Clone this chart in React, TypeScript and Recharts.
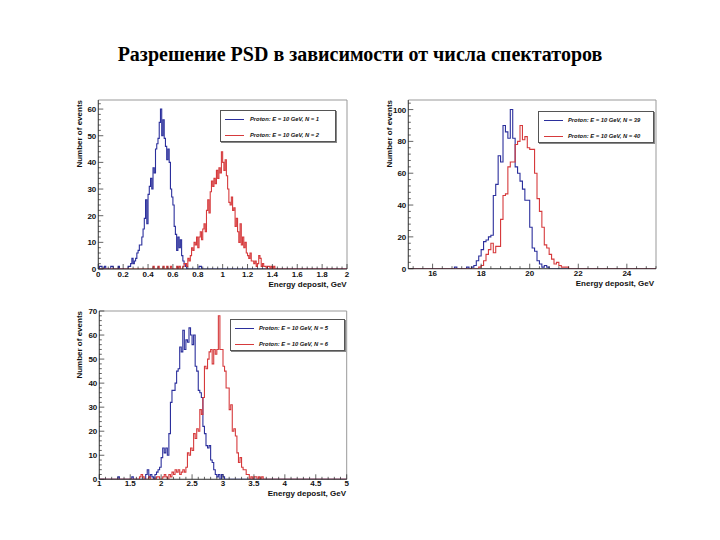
import { LineChart, Line, XAxis, YAxis, Legend, ReferenceArea } from "recharts";

const BLUE = "#2b2f9c";
const RED = "#d63a3c";
const SANS = '"Liberation Sans", Arial, sans-serif';

const TITLE = "Разрешение PSD в зависимости от числа спектаторов";
const X_TITLE = "Energy deposit, GeV";
const Y_TITLE = "Number of events";

// panel 1: N = 1 / N = 2, 0..2 GeV, 0.01 GeV bins
const p1Names = ["Proton: E = 10 GeV, N = 1", "Proton: E = 10 GeV, N = 2"];
const p1XTicks = [0, 0.2, 0.4, 0.6, 0.8, 1, 1.2, 1.4, 1.6, 1.8, 2];
const p1YTicks = [0, 10, 20, 30, 40, 50, 60];
const p1BlueFrom = 0;
const p1Blue = [
  0, 1, 1, 0, 0, 1, 0, 0, 0, 0,
  1, 1, 0, 0, 0, 0, 1, 0, 0, 0,
  0, 0, 0, 0, 1, 1, 2, 4, 2, 3,
  4, 6, 7, 9, 9, 12, 15, 19, 26, 17,
  28, 31, 34, 30, 38, 36, 45, 47, 49, 55,
  60, 50, 56, 49, 46, 41, 45, 40, 30, 27,
  24, 16, 13, 7, 12, 8, 11, 5, 3, 2,
  1, 0, 0, 0, 0, 0, 0, 0, 0, 0,
  0, 1, 1,
];
const p1RedFrom = 0.44;
const p1Red = [
  1, 0, 0, 0, 1, 0, 0, 0, 1, 0,
  0, 1, 0, 0, 1, 0, 0, 0, 0, 1,
  0, 1, 0, 0, 1, 2, 2, 1, 4, 3,
  5, 8, 7, 10, 9, 12, 8, 12, 14, 11,
  15, 17, 14, 22, 26, 21, 29, 33, 31, 34,
  32, 37, 34, 38, 36, 44, 40, 37, 41, 35,
  30, 25, 24, 27, 22, 23, 16, 19, 14, 10,
  17, 9, 12, 8, 10, 6, 5, 4, 6, 3,
  3, 2, 3, 1, 2, 5, 4, 1, 2, 1,
  1, 0, 1, 1, 0, 1, 0, 1,
];

// panel 2: N = 39 / N = 40, 15..25.2 GeV, 0.1 GeV bins
const p2Names = ["Proton: E = 10 GeV, N = 39", "Proton: E = 10 GeV, N = 40"];
const p2XTicks = [16, 18, 20, 22, 24];
const p2YTicks = [0, 20, 40, 60, 80, 100];
const p2BlueFrom = 16.9;
const p2Blue = [
  1, 0, 0, 0, 0, 1, 0, 1, 2, 5,
  8, 12, 17, 18, 20, 21, 46, 53, 71, 67,
  90, 86, 82, 100, 82, 64, 60, 55, 50, 43,
  43, 26, 13, 11, 5, 3, 1, 2, 1,
];
const p2RedFrom = 17.9;
const p2Red = [
  1, 2, 5, 9, 12, 16, 10, 14, 14, 31,
  46, 47, 64, 67, 67, 78, 80, 90, 81, 83,
  76, 75, 75, 60, 44, 36, 26, 15, 13, 9,
  6, 3, 4, 2, 1, 1, 1,
];

// panel 3: N = 5 / N = 6, 1..5 GeV, 0.025 GeV bins
const p3Names = ["Proton: E = 10 GeV, N = 5", "Proton: E = 10 GeV, N = 6"];
const p3XTicks = [1, 1.5, 2, 2.5, 3, 3.5, 4, 4.5, 5];
const p3YTicks = [0, 10, 20, 30, 40, 50, 60, 70];
const p3BlueFrom = 1.3;
const p3Blue = [
  1, 0, 0, 0, 0, 0, 0, 0, 0, 1,
  0, 0, 0, 0, 0, 0, 0, 0, 2, 4,
  1, 2, 1, 0, 2, 3, 4, 5, 9, 13,
  11, 13, 10, 19, 32, 37, 37, 40, 45, 46,
  55, 53, 62, 54, 58, 57, 63, 60, 56, 60,
  47, 45, 37, 36, 34, 22, 19, 14, 13, 14,
  8, 7, 4, 2, 1, 2, 0, 2, 1,
];
const p3RedFrom = 1.65;
const p3Red = [
  1, 2, 1, 0, 0, 0, 1, 0, 0, 0,
  0, 1, 1, 0, 0, 1, 2, 1, 0, 2,
  1, 3, 2, 4, 3, 4, 2, 3, 4, 3,
  5, 11, 10, 13, 12, 19, 17, 21, 20, 29,
  27, 34, 47, 46, 50, 53, 54, 48, 54, 52,
  54, 68, 54, 54, 47, 45, 38, 38, 29, 31,
  20, 21, 18, 11, 7, 9, 5, 4, 4, 2,
  2, 0, 1, 0, 1, 1, 0, 1, 0, 1,
];

function hist(lo: number, hi: number, bw: number, from: number, counts: number[]) {
  const n = Math.round((hi - lo) / bw);
  const off = Math.round((from - lo) / bw);
  const pts: { x: number; y: number }[] = [];
  for (let i = 0; i <= n; i++) {
    const k = i - off;
    const c = k >= 0 && k < counts.length ? counts[k] : 0;
    pts.push({ x: +(lo + i * bw).toFixed(4), y: i === n ? 0 : c });
  }
  return pts;
}

function withMinor(majors: number[], sub: number, lo: number, hi: number) {
  const step = (majors[1] - majors[0]) / sub;
  const out: number[] = [];
  const k0 = Math.ceil((lo - majors[0]) / step - 1e-6);
  const k1 = Math.floor((hi - majors[0]) / step + 1e-6);
  for (let k = k0; k <= k1; k++) out.push(+(majors[0] + k * step).toFixed(4));
  return out;
}

const isMajor = (majors: number[], v: number) => majors.some((m) => Math.abs(m - v) < 1e-6);

interface Rect { left: number; top: number; right: number; bottom: number }
interface LegendBox { left: number; top: number; width: number; height: number; lineX: number; lineW: number; textX: number; rows: number[] }

interface PanelProps {
  box: Rect; // whole chart area
  plot: Rect; // frame of the plot
  xDomain: [number, number];
  yDomain: [number, number];
  bin: number;
  xTicks: number[];
  xSub: number;
  yTicks: number[];
  ySub: number;
  names: string[];
  blue: number[];
  blueFrom: number;
  red: number[];
  redFrom: number;
  legend: LegendBox;
  labelDy: number;
}

function Panel(p: PanelProps) {
  const width = p.box.right - p.box.left;
  const height = p.box.bottom - p.box.top;
  const [xl, xh] = p.xDomain;
  const blueData = hist(xl, xh, p.bin, p.blueFrom, p.blue);
  const redData = hist(xl, xh, p.bin, p.redFrom, p.red);
  const xAll = withMinor(p.xTicks, p.xSub, xl, xh);
  const yAll = withMinor(p.yTicks, p.ySub, p.yDomain[0], p.yDomain[1]);
  const lg = p.legend;

  const renderLegend = (props: any) => (
    <div
      style={{
        position: "relative",
        width: lg.width,
        height: lg.height,
        boxSizing: "border-box",
        border: "1px solid #555",
        background: "#fff",
        boxShadow: "1px 1px 0 #888",
      }}
    >
      {(props.payload || []).map((e: any, i: number) => (
        <div key={i}>
          <div
            style={{
              position: "absolute",
              left: lg.lineX,
              top: lg.rows[i],
              width: lg.lineW,
              borderTop: `1px solid ${e.color}`,
            }}
          />
          <div
            style={{
              position: "absolute",
              left: lg.textX,
              top: lg.rows[i] - 4,
              fontFamily: SANS,
              fontSize: 5.8,
              lineHeight: "8px",
              fontWeight: "bold",
              fontStyle: "italic",
              whiteSpace: "nowrap",
              color: "#111",
            }}
          >
            {e.value}
          </div>
        </div>
      ))}
    </div>
  );

  return (
    <div style={{ position: "absolute", left: p.box.left, top: p.box.top }}>
      <LineChart
        width={width}
        height={height}
        margin={{
          top: p.plot.top - p.box.top,
          right: p.box.right - p.plot.right,
          left: 0,
          bottom: 0,
        }}
      >
        <XAxis
          type="number"
          dataKey="x"
          domain={p.xDomain}
          allowDataOverflow
          ticks={xAll}
          interval={0}
          height={p.box.bottom - p.plot.bottom}
          tickSize={0}
          tickMargin={0}
          axisLine={{ stroke: "#333", strokeWidth: 0.8 }}
          tick={(t: any) => {
            const major = isMajor(p.xTicks, t.payload.value);
            return (
              <g>
                <line x1={t.x} x2={t.x} y1={t.y} y2={t.y - (major ? 5 : 2.5)} stroke="#222" strokeWidth={0.7} />
                {major && (
                  <text x={t.x} y={t.y + p.labelDy} textAnchor="middle" fontFamily={SANS} fontSize={8} fontWeight="bold" fill="#111">
                    {String(t.payload.value)}
                  </text>
                )}
              </g>
            );
          }}
        />
        <YAxis
          type="number"
          domain={p.yDomain}
          allowDataOverflow
          ticks={yAll}
          interval={0}
          width={p.plot.left - p.box.left}
          tickSize={0}
          tickMargin={0}
          axisLine={{ stroke: "#333", strokeWidth: 0.8 }}
          tick={(t: any) => {
            const major = isMajor(p.yTicks, t.payload.value);
            return (
              <g>
                <line x1={t.x} x2={t.x + (major ? 5 : 2.5)} y1={t.y} y2={t.y} stroke="#222" strokeWidth={0.7} />
                {major && (
                  <text x={t.x - 2} y={t.y + 3} textAnchor="end" fontFamily={SANS} fontSize={8} fontWeight="bold" fill="#111">
                    {String(t.payload.value)}
                  </text>
                )}
              </g>
            );
          }}
        />
        <ReferenceArea x1={xl} x2={xh} y1={p.yDomain[0]} y2={p.yDomain[1]} fill="none" stroke="#999" strokeWidth={1} ifOverflow="visible" />
        <Legend
          layout="horizontal"
          verticalAlign="middle"
          align="center"
          wrapperStyle={{ left: lg.left - p.box.left, top: lg.top - p.box.top, width: lg.width, height: lg.height }}
          content={renderLegend}
        />
        <Line data={blueData} dataKey="y" name={p.names[0]} type="stepAfter" stroke={BLUE} strokeWidth={1.1} dot={false} isAnimationActive={false} />
        <Line data={redData} dataKey="y" name={p.names[1]} type="stepAfter" stroke={RED} strokeWidth={1.1} dot={false} isAnimationActive={false} />
      </LineChart>
    </div>
  );
}

const legendRows = [8, 23.5];

export default function App() {
  return (
    <div style={{ position: "absolute", left: 0, top: 0, width: 720, height: 540, background: "#fff", overflow: "hidden" }}>
      <Panel
        box={{ left: 70, top: 95, right: 360, bottom: 295 }}
        plot={{ left: 98.3, top: 100, right: 347, bottom: 269 }}
        xDomain={[0, 2]}
        yDomain={[0, 63.4]}
        bin={0.01}
        xTicks={p1XTicks}
        xSub={5}
        yTicks={p1YTicks}
        ySub={5}
        names={p1Names}
        blue={p1Blue}
        blueFrom={p1BlueFrom}
        red={p1Red}
        redFrom={p1RedFrom}
        legend={{ left: 220, top: 110, width: 116, height: 32, lineX: 4, lineW: 19, textX: 29, rows: legendRows }}
        labelDy={8}
      />
      <Panel
        box={{ left: 380, top: 95, right: 670, bottom: 295 }}
        plot={{ left: 408.3, top: 100, right: 656, bottom: 268.7 }}
        xDomain={[15, 25.2]}
        yDomain={[0, 106]}
        bin={0.1}
        xTicks={p2XTicks}
        xSub={5}
        yTicks={p2YTicks}
        ySub={5}
        names={p2Names}
        blue={p2Blue}
        blueFrom={p2BlueFrom}
        red={p2Red}
        redFrom={p2RedFrom}
        legend={{ left: 538, top: 111, width: 116, height: 32, lineX: 5, lineW: 19, textX: 29, rows: legendRows }}
        labelDy={7.5}
      />
      <Panel
        box={{ left: 70, top: 300, right: 360, bottom: 505 }}
        plot={{ left: 99.3, top: 311, right: 346.7, bottom: 479.3 }}
        xDomain={[1, 5]}
        yDomain={[0, 70]}
        bin={0.025}
        xTicks={p3XTicks}
        xSub={5}
        yTicks={p3YTicks}
        ySub={5}
        names={p3Names}
        blue={p3Blue}
        blueFrom={p3BlueFrom}
        red={p3Red}
        redFrom={p3RedFrom}
        legend={{ left: 230, top: 319, width: 115, height: 32, lineX: 4, lineW: 19, textX: 28, rows: legendRows }}
        labelDy={7}
      />
      <svg width={720} height={540} style={{ position: "absolute", left: 0, top: 0, pointerEvents: "none" }}>
        <text x={360} y={61} textAnchor="middle" fontFamily='"Liberation Serif", "Times New Roman", serif' fontSize={20} fontWeight="bold" fill="#000">
          {TITLE}
        </text>
        <text x={346.7} y={286.5} textAnchor="end" fontFamily={SANS} fontSize={8} fontWeight="bold" fill="#111">{X_TITLE}</text>
        <text x={654} y={285.7} textAnchor="end" fontFamily={SANS} fontSize={8} fontWeight="bold" fill="#111">{X_TITLE}</text>
        <text x={346} y={496} textAnchor="end" fontFamily={SANS} fontSize={8} fontWeight="bold" fill="#111">{X_TITLE}</text>
        <text x={82} y={100} textAnchor="end" transform="rotate(-90 82 100)" fontFamily={SANS} fontSize={8} fontWeight="bold" fill="#111">{Y_TITLE}</text>
        <text x={392} y={100} textAnchor="end" transform="rotate(-90 392 100)" fontFamily={SANS} fontSize={8} fontWeight="bold" fill="#111">{Y_TITLE}</text>
        <text x={82} y={311} textAnchor="end" transform="rotate(-90 82 311)" fontFamily={SANS} fontSize={8} fontWeight="bold" fill="#111">{Y_TITLE}</text>
      </svg>
    </div>
  );
}
